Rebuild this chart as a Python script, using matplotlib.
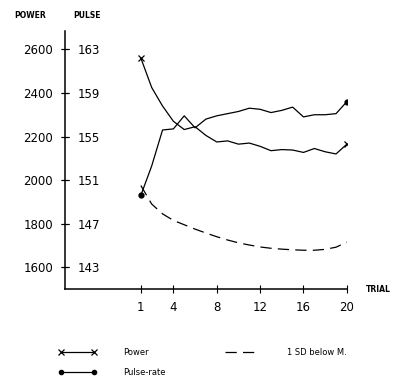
import matplotlib.pyplot as plt
from matplotlib.lines import Line2D

trials = list(range(1, 21))
power = [2560, 2425, 2340, 2270, 2232, 2245, 2205, 2175, 2180, 2165,
         2170, 2155, 2135, 2140, 2138, 2127, 2145, 2130, 2120, 2165]
pulse = [149.6, 152.3, 155.6, 155.7, 156.9, 155.8, 156.6, 156.9, 157.1, 157.3,
         157.6, 157.5, 157.2, 157.4, 157.7, 156.8, 157.0, 157.0, 157.1, 158.2]
sd_below = [1975, 1890, 1845, 1815, 1795, 1775, 1757, 1740, 1725, 1712,
            1702, 1693, 1687, 1683, 1680, 1678, 1678, 1682, 1692, 1715]

power_ticks = [1600, 1800, 2000, 2200, 2400, 2600]
pulse_ticks = [143, 147, 151, 155, 159, 163]
trial_ticks = [1, 4, 8, 12, 16, 20]

def power_to_pulse(p):
    return 111 + p / 50.0

fig = plt.figure(figsize=(4.01, 3.83), dpi=100)
ax = fig.add_axes([0.162, 0.2454, 0.703, 0.674])
ax2 = ax.twinx()

ax.plot(trials, power, color="black", lw=0.9, marker="x", markersize=5,
        markevery=[0, len(trials) - 1], mew=0.9)
ax2.plot(trials, pulse, color="black", lw=0.9, marker="o", markersize=3.5,
         markevery=[0, len(trials) - 1])
ax.plot(trials, sd_below, color="black", lw=0.9, dashes=(9, 5))

ax.set_xlim(-6, 20)
ylo, yhi = 1500, 2685
ax.set_ylim(ylo, yhi)
ax2.set_ylim(power_to_pulse(ylo), power_to_pulse(yhi))

for s in ["top", "right"]:
    ax.spines[s].set_visible(False)
for s in ["top", "bottom", "left", "right"]:
    ax2.spines[s].set_visible(False)
ax2.spines["right"].set_position(("axes", 0))
for s in ["left", "bottom"]:
    ax.spines[s].set_linewidth(1.1)

ax.set_yticks(power_ticks)
ax.set_yticklabels([str(t) for t in power_ticks])
ax.yaxis.set_tick_params(which="major", direction="inout", length=6,
                         width=0.8, color="black", pad=5.5, labelsize=8.5)
ax2.set_yticks(pulse_ticks)
ax2.set_yticklabels([str(t) for t in pulse_ticks])
ax2.yaxis.set_tick_params(which="major", direction="inout", length=6,
                          width=0.8, color="black", pad=6, labelsize=8.5)

ax.set_xticks(trial_ticks)
ax.set_xticklabels([str(t) for t in trial_ticks])
ax.xaxis.set_tick_params(which="major", direction="inout", length=6,
                         width=0.8, color="black", pad=5.5, labelsize=8.5)

ax.text(22.9, ylo, "TRIAL", fontsize=5.5, fontweight="bold", ha="center",
        va="center", clip_on=False)
fig.text(30 / 401, 1 - 16 / 383, "POWER", fontsize=5.5, fontweight="bold",
         ha="center", va="center")
fig.text(87 / 401, 1 - 16 / 383, "PULSE", fontsize=5.5, fontweight="bold",
         ha="center", va="center")

handles = [
    Line2D([], [], color="black", lw=0.9, marker="x", markersize=4, mew=0.9),
    Line2D([], [], color="black", lw=0.9, marker="o", markersize=3),
    Line2D([], [], color="black", lw=0.9, dashes=(9, 5)),
]
labels = ["Power", "Pulse-rate", "1 SD below M."]
fig.legend(handles, labels, ncol=2, numpoints=2, frameon=False,
           loc="upper left", bbox_to_anchor=(0.135, 1 - 344 / 383),
           fontsize=6, handlelength=4.6, handletextpad=3.2,
           columnspacing=6.8, labelspacing=1.3, borderpad=0)

fig.savefig("out.png", dpi=100)
